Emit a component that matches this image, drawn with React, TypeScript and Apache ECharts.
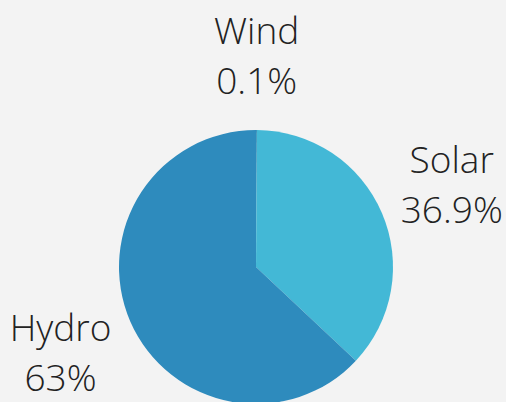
import React, { useEffect, useRef } from "react";
import * as echarts from "echarts";

const categories = ["Wind", "Solar", "Hydro"];
const values = [0.1, 36.9, 63];
const colors = ["#2a80b0", "#43b8d6", "#2e8bbd"];

export default function App() {
  const ref = useRef<HTMLDivElement>(null);
  useEffect(() => {
    document.body.style.margin = "0";
    const chart = echarts.init(ref.current!, null, { renderer: "svg" });
    const cx = 256;
    const cy = 267;
    const R = 137;
    const labelDist = 213;
    const total = values.reduce((a, b) => a + b, 0);
    const mids: number[] = [];
    let acc = 0;
    values.forEach((v) => {
      mids.push(((acc + v / 2) / total) * Math.PI * 2);
      acc += v;
    });
    chart.setOption({
      animation: false,
      backgroundColor: "#f3f3f3",
      series: [
        {
          type: "pie",
          center: [cx, cy],
          radius: R,
          startAngle: 90,
          clockwise: true,
          data: categories.map((name, i) => ({
            name,
            value: values[i],
            itemStyle: { color: colors[i] },
          })),
          itemStyle: { borderWidth: 0 },
          label: {
            show: true,
            position: "outside",
            formatter: (p: any) => `${p.name}\n${p.value}%`,
            fontFamily: "Open Sans",
            fontWeight: 300,
            fontSize: 37,
            lineHeight: 50,
            color: "#222",
            align: "center",
            overflow: "none",
            width: 200,
          },
          labelLine: { show: false },
          labelLayout: (params: any) => {
            const a = mids[params.dataIndex];
            return {
              x: cx + labelDist * Math.sin(a),
              y: cy - labelDist * Math.cos(a),
              align: "center",
              verticalAlign: "middle",
            };
          },
        },
      ],
    });
    return () => chart.dispose();
  }, []);
  return (
    <div
      ref={ref}
      style={{ position: "fixed", left: 0, top: 0, width: 506, height: 402 }}
    />
  );
}
